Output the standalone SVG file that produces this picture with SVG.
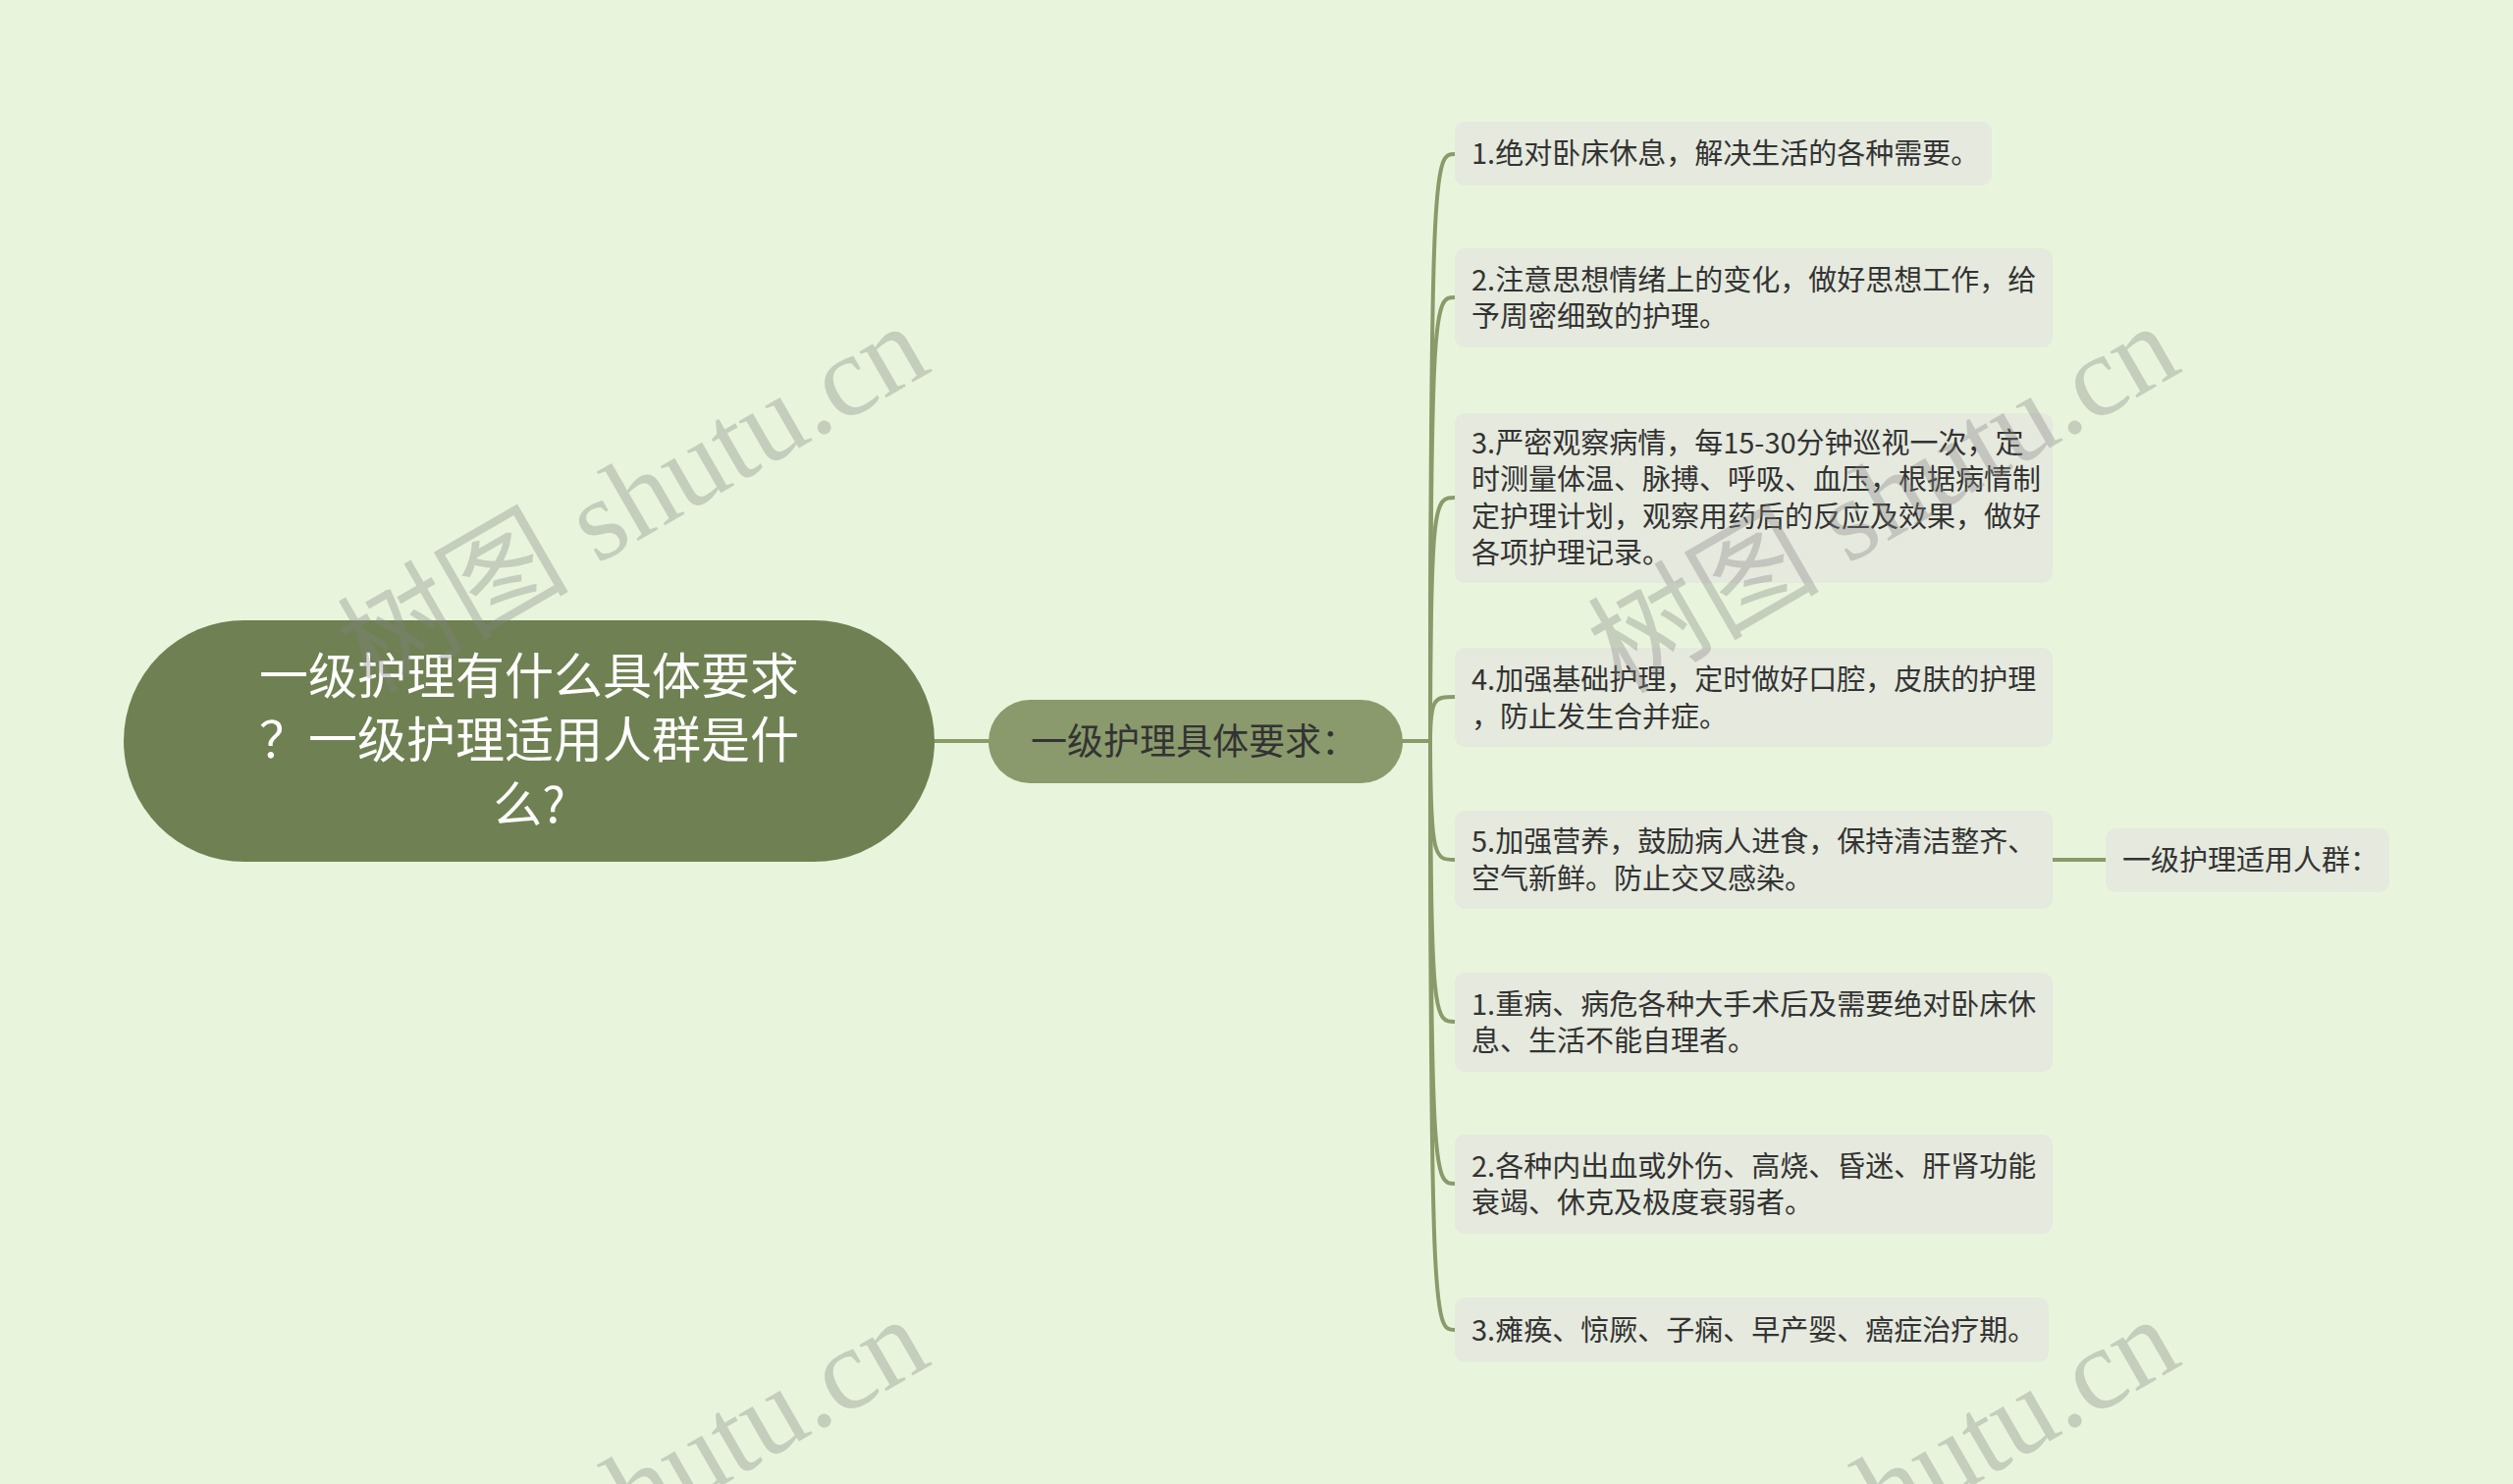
<svg xmlns="http://www.w3.org/2000/svg" width="2560" height="1512" viewBox="0 0 2560 1512">
<style>
.cjk{font-family:"Noto Sans CJK SC","Noto Sans",sans-serif}
.root-t{font-size:50px;fill:#ffffff;text-anchor:middle}
.main-t{font-size:37px;fill:#333333}
.item-t{font-size:29px;fill:#333333}
.box{fill:#e5e9de}
.conn{fill:none;stroke:#8a9a6a;stroke-width:4;stroke-linecap:round}
.wm{font-size:118px;fill:#808080;fill-opacity:0.34}
.wm-cjk{font-family:"Noto Sans CJK SC",serif}
.wm-lat{font-family:"Liberation Serif",serif}
</style>
<rect x="0" y="0" width="2560" height="1512" fill="#e8f5dc"/>

<g id="connectors">
  <line class="conn" x1="952" y1="755" x2="1007" y2="755"/>
  <line class="conn" x1="1429" y1="755" x2="1457" y2="755"/>
  <path class="conn" d="M1457,755 C1457,157 1462,157 1482,157"/>
  <path class="conn" d="M1457,755 C1457,303 1462,303 1482,303"/>
  <path class="conn" d="M1457,755 C1457,507 1462,507 1482,507"/>
  <path class="conn" d="M1457,755 C1457,710 1462,710 1482,710"/>
  <path class="conn" d="M1457,755 C1457,876 1462,876 1482,876"/>
  <path class="conn" d="M1457,755 C1457,1041 1462,1041 1482,1041"/>
  <path class="conn" d="M1457,755 C1457,1206 1462,1206 1482,1206"/>
  <path class="conn" d="M1457,755 C1457,1355 1462,1355 1482,1355"/>
  <line class="conn" x1="2091" y1="876" x2="2145" y2="876"/>
</g>

<g id="root">
  <rect x="126" y="632" width="826" height="246" rx="123" fill="#6f8152"/>
  <text class="cjk root-t" x="539" y="707">一级护理有什么具体要求</text>
  <text class="cjk root-t" x="539" y="772">？一级护理适用人群是什</text>
  <text class="cjk root-t" x="539" y="838">么?</text>
</g>

<g id="main">
  <rect x="1007" y="713" width="422" height="85" rx="42.5" fill="#8a9a6c"/>
  <text class="cjk main-t" x="1050" y="769">一级护理具体要求：</text>
</g>

<g id="item1">
  <rect class="box" x="1482" y="124" width="547" height="65" rx="10"/>
  <text class="cjk item-t" x="1499" y="167">1.绝对卧床休息，解决生活的各种需要。</text>
</g>

<g id="item2">
  <rect class="box" x="1482" y="253" width="609" height="101" rx="10"/>
  <text class="cjk item-t" x="1499" y="296">2.注意思想情绪上的变化，做好思想工作，给</text>
  <text class="cjk item-t" x="1499" y="333">予周密细致的护理。</text>
</g>

<g id="item3">
  <rect class="box" x="1482" y="421" width="609" height="173" rx="10"/>
  <text class="cjk item-t" x="1499" y="462">3.严密观察病情，每15-30分钟巡视一次，定</text>
  <text class="cjk item-t" x="1499" y="499">时测量体温、脉搏、呼吸、血压，根据病情制</text>
  <text class="cjk item-t" x="1499" y="537">定护理计划，观察用药后的反应及效果，做好</text>
  <text class="cjk item-t" x="1499" y="574">各项护理记录。</text>
</g>

<g id="item4">
  <rect class="box" x="1482" y="660" width="609" height="101" rx="10"/>
  <text class="cjk item-t" x="1499" y="703">4.加强基础护理，定时做好口腔，皮肤的护理</text>
  <text class="cjk item-t" x="1499" y="741">，防止发生合并症。</text>
</g>

<g id="item5">
  <rect class="box" x="1482" y="826" width="609" height="100" rx="10"/>
  <text class="cjk item-t" x="1499" y="868">5.加强营养，鼓励病人进食，保持清洁整齐、</text>
  <text class="cjk item-t" x="1499" y="906">空气新鲜。防止交叉感染。</text>
</g>

<g id="population">
  <rect class="box" x="2145" y="844" width="289" height="65" rx="10"/>
  <text class="cjk item-t" x="2162" y="887">一级护理适用人群：</text>
</g>

<g id="p1">
  <rect class="box" x="1482" y="991" width="609" height="101" rx="10"/>
  <text class="cjk item-t" x="1499" y="1034">1.重病、病危各种大手术后及需要绝对卧床休</text>
  <text class="cjk item-t" x="1499" y="1071">息、生活不能自理者。</text>
</g>

<g id="p2">
  <rect class="box" x="1482" y="1156" width="609" height="101" rx="10"/>
  <text class="cjk item-t" x="1499" y="1199">2.各种内出血或外伤、高烧、昏迷、肝肾功能</text>
  <text class="cjk item-t" x="1499" y="1236">衰竭、休克及极度衰弱者。</text>
</g>

<g id="p3">
  <rect class="box" x="1482" y="1322" width="605" height="66" rx="10"/>
  <text class="cjk item-t" x="1499" y="1366">3.瘫痪、惊厥、子痫、早产婴、癌症治疗期。</text>
</g>

<g id="watermarks">
  <text class="wm" transform="translate(378,708) rotate(-30)"><tspan class="wm-cjk">树图</tspan><tspan class="wm-lat"> shutu.cn</tspan></text>
  <text class="wm" transform="translate(1652,708) rotate(-30)"><tspan class="wm-cjk">树图</tspan><tspan class="wm-lat"> shutu.cn</tspan></text>
  <text class="wm" transform="translate(378,1720) rotate(-30)"><tspan class="wm-cjk">树图</tspan><tspan class="wm-lat"> shutu.cn</tspan></text>
  <text class="wm" transform="translate(1652,1720) rotate(-30)"><tspan class="wm-cjk">树图</tspan><tspan class="wm-lat"> shutu.cn</tspan></text>
</g>
</svg>
